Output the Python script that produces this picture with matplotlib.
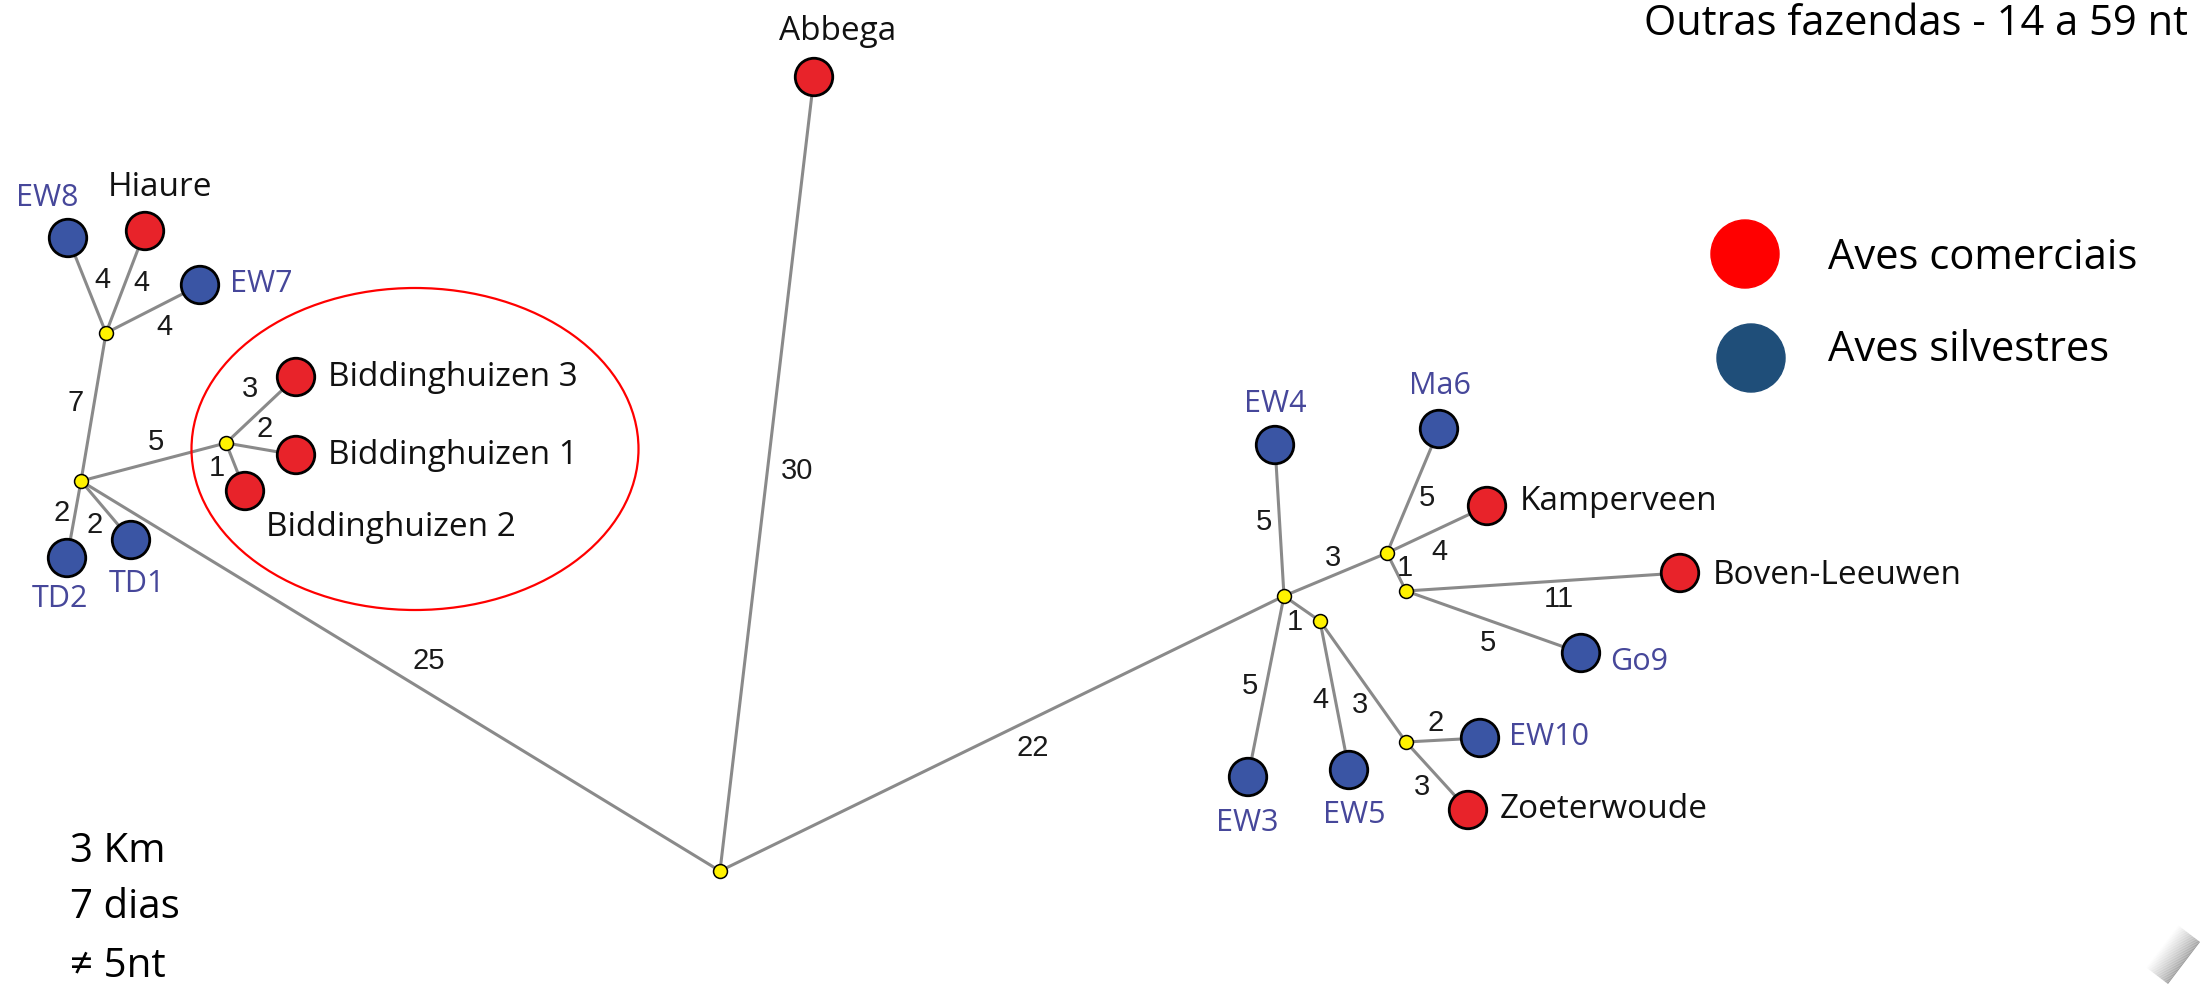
import matplotlib
matplotlib.use('Agg')
import matplotlib.pyplot as plt
from matplotlib.patches import Ellipse, Polygon
import numpy as np

# terminal nodes (farms / wild birds), layout in pixel units
node_names = ['Abbega', 'EW8', 'Hiaure', 'EW7', 'Biddinghuizen 3', 'Biddinghuizen 1',
              'Biddinghuizen 2', 'TD2', 'TD1', 'EW4', 'Ma6', 'Kamperveen',
              'Boven-Leeuwen', 'Go9', 'EW10', 'Zoeterwoude', 'EW3', 'EW5']
node_x = [814, 68, 145, 200, 296, 296, 245, 67, 131, 1275, 1439, 1487, 1680, 1581, 1480, 1468, 1248, 1349]
node_y = [77, 238, 231, 285, 377, 455, 491, 558, 540, 445, 429, 506, 573, 653, 738, 810, 777, 770]
node_kind = ['c', 'w', 'c', 'w', 'c', 'c', 'c', 'w', 'w', 'w', 'w', 'c', 'c', 'w', 'w', 'c', 'w', 'w']

# label placement for each node
label_x = [838, 47, 160, 230, 328, 328, 266, 60, 137, 1275, 1440, 1520, 1713, 1610, 1509, 1500, 1247, 1354]
label_y = [31, 198, 187, 284, 377, 455, 527, 599, 584, 404, 386, 502, 575, 662, 737, 810, 823, 815]
label_ha = ['center', 'center', 'center', 'left', 'left', 'left', 'left', 'center', 'center',
            'center', 'center', 'left', 'left', 'left', 'left', 'left', 'center', 'center']

# median vectors (yellow junctions)
junc_names = ['R', 'J1', 'J2', 'J3', 'J4', 'J5', 'J6', 'J7', 'J8']
junc_x = [720, 106, 81, 226, 1284, 1387, 1406, 1320, 1406]
junc_y = [871, 333, 481, 443, 596, 553, 591, 621, 742]

# edges and nt differences
edges = [('R', 'Abbega'), ('R', 'J2'), ('R', 'J4'), ('J2', 'J1'), ('J1', 'EW8'),
         ('J1', 'Hiaure'), ('J1', 'EW7'), ('J2', 'J3'), ('J3', 'Biddinghuizen 3'),
         ('J3', 'Biddinghuizen 1'), ('J3', 'Biddinghuizen 2'), ('J2', 'TD2'), ('J2', 'TD1'),
         ('J4', 'EW4'), ('J4', 'J5'), ('J5', 'Ma6'), ('J5', 'Kamperveen'), ('J5', 'J6'),
         ('J6', 'Boven-Leeuwen'), ('J6', 'Go9'), ('J4', 'J7'), ('J4', 'EW3'), ('J7', 'EW5'),
         ('J7', 'J8'), ('J8', 'EW10'), ('J8', 'Zoeterwoude')]
edge_nt = [30, 25, 22, 7, 4, 4, 4, 5, 3, 2, 1, 2, 2, 5, 3, 5, 4, 1, 11, 5, 1, 5, 4, 3, 2, 3]
edge_lx = [797, 429, 1033, 76, 102, 141, 164, 156, 250, 265, 217, 62, 95,
           1264, 1333, 1427, 1439, 1405, 1559, 1488, 1295, 1250, 1320, 1360, 1436, 1422]
edge_ly = [471, 661, 748, 403, 280, 283, 327, 442, 389, 429, 468, 513, 525,
           522, 558, 498, 552, 568, 599, 643, 622, 686, 700, 705, 723, 787]

legend_labels = ['Aves comerciais', 'Aves silvestres']
notes = ['3 Km', '7 dias', '\u2260 5nt']
title = 'Outras fazendas - 14 a 59 nt'

RED = '#e8232a'
BLUE = '#3a55a4'
LBLUE = '#46479a'

pos = {}
for n, x, y in zip(node_names, node_x, node_y):
    pos[n] = (x, y)
for n, x, y in zip(junc_names, junc_x, junc_y):
    pos[n] = (x, y)

fig = plt.figure(figsize=(22, 9.84), dpi=100)
ax = fig.add_axes([0, 0, 1, 1])
ax.set_xlim(0, 2200)
ax.set_ylim(984, 0)
ax.axis('off')

for (a, b) in edges:
    ax.plot([pos[a][0], pos[b][0]], [pos[a][1], pos[b][1]], color='#8a8a8a', lw=2.2, zorder=1)

for t, x, y in zip(edge_nt, edge_lx, edge_ly):
    ax.text(x, y, str(t), fontsize=21, family='Liberation Sans', color='#1a1a1a',
            ha='center', va='center', zorder=5)

cols = [RED if k == 'c' else BLUE for k in node_kind]
ax.scatter(node_x, node_y, s=729, c=cols, edgecolors='black', linewidths=2.0, zorder=3)
ax.scatter(junc_x, junc_y, s=100, c='#fff200', edgecolors='black', linewidths=1.1, zorder=3)

for n, k, x, y, ha in zip(node_names, node_kind, label_x, label_y, label_ha):
    if k == 'c':
        ax.text(x, y, n, fontsize=24, family='Open Sans', color='#111111', ha=ha, va='center', zorder=5)
    else:
        ax.text(x, y, n, fontsize=22, family='Open Sans', color=LBLUE, ha=ha, va='center', zorder=5)

# circle around the Biddinghuizen cluster
ax.add_patch(Ellipse((415, 449), 447, 322, fill=False, edgecolor='#ff0000', lw=1.6, zorder=2))

# legend
ax.scatter([1745, 1751], [254, 358], s=2400, c=['#ff0000', '#1f4e79'], zorder=3)
for lab, y in zip(legend_labels, [258, 350]):
    ax.text(1828, y, lab, fontsize=30, family='Open Sans', ha='left', va='center')

ax.text(2188, 24, title, fontsize=30, family='Open Sans', ha='right', va='center')

for note, y in zip(notes, [852, 908, 967]):
    ax.text(70, y, note, fontsize=29, family=['Open Sans', 'DejaVu Sans'], ha='left', va='center')

# page curl shadow in the corner
p0 = np.array([2168.0, 984.0])
p1 = np.array([2200.0, 942.0])
nrm = np.array([-0.795, -0.606])
for i in range(28):
    g = 0.6 + 0.4 * (i / 27.0) ** 0.8
    poly = [p0 + nrm * i, p1 + nrm * i, p1 + nrm * (i + 1), p0 + nrm * (i + 1)]
    ax.add_patch(Polygon(poly, closed=True, facecolor=(g, g, g), edgecolor='none', zorder=0))

fig.savefig('out.png', dpi=100)
